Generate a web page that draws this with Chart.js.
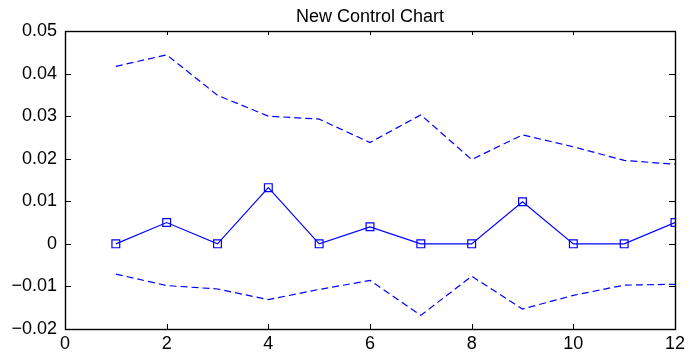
<!DOCTYPE html>
<html>
<head>
<meta charset="utf-8">
<title>New Control Chart</title>
<script src="https://cdn.jsdelivr.net/npm/chart.js@4.4.7/dist/chart.umd.min.js"></script>
<style>
  html, body { margin: 0; padding: 0; background: #fff; }
  #wrap { width: 690px; height: 354px; }
</style>
</head>
<body>
<div id="wrap"><canvas id="controlChart" width="690" height="354"></canvas></div>
<script>
// ===== データ =====
const samples = [1, 2, 3, 4, 5, 6, 7, 8, 9, 10, 11, 12];
const upperLimit = [0.0417, 0.0444, 0.0349, 0.0300, 0.0293, 0.0238, 0.0303, 0.0198, 0.0256, 0.0228, 0.0196, 0.0187];
const centerValues = [0, 0.0050, 0, 0.0132, 0, 0.0040, 0, 0, 0.0099, 0, 0, 0.0050];
const lowerLimit = [-0.0071, -0.0098, -0.0106, -0.0131, -0.0107, -0.0086, -0.0168, -0.0076, -0.0153, -0.0121, -0.0097, -0.0095];
const xTickLabels = ['0', '2', '4', '6', '8', '10', '12'];
const yTickLabels = ['\u22120.02', '\u22120.01', '0', '0.01', '0.02', '0.03', '0.04', '0.05'];

const BLUE = 'rgb(0,0,255)';
const FONT = '"Liberation Sans", Arial, Helvetica, sans-serif';

function toPoints(values) {
  return samples.map((x, i) => ({ x: x, y: values[i] }));
}

// ===== 枠と内向き目盛り（MATLAB風） =====
const boxTicks = {
  id: 'boxTicks',
  afterDraw(chart) {
    const { ctx, chartArea: a, scales } = chart;
    ctx.save();
    ctx.strokeStyle = '#000';
    ctx.lineWidth = 1.4;
    ctx.strokeRect(Math.round(a.left) + 0.5, Math.round(a.top) + 0.5,
      Math.round(a.right - a.left), Math.round(a.bottom - a.top));
    ctx.lineWidth = 1;
    ctx.beginPath();
    scales.x.ticks.forEach(t => {
      const px = Math.round(scales.x.getPixelForValue(t.value)) + 0.5;
      ctx.moveTo(px, a.bottom); ctx.lineTo(px, a.bottom - 5);
      ctx.moveTo(px, a.top); ctx.lineTo(px, a.top + 4);
    });
    scales.y.ticks.forEach(t => {
      const py = Math.round(scales.y.getPixelForValue(t.value)) + 0.5;
      ctx.moveTo(a.left, py); ctx.lineTo(a.left + 6, py);
      ctx.moveTo(a.right, py); ctx.lineTo(a.right - 6, py);
    });
    ctx.stroke();
    ctx.restore();
  }
};

// ===== チャート作成 =====
function createControlChart() {
  const ctx = document.getElementById('controlChart').getContext('2d');
  new Chart(ctx, {
    type: 'line',
    data: {
      datasets: [
        {
          label: 'UCL',
          data: toPoints(upperLimit),
          borderColor: BLUE,
          borderWidth: 1.2,
          borderDash: [7, 4],
          pointRadius: 0,
          tension: 0,
          fill: false
        },
        {
          label: 'Value',
          data: toPoints(centerValues),
          borderColor: BLUE,
          borderWidth: 1.2,
          pointStyle: 'rect',
          pointRadius: 5.5,
          pointBorderColor: BLUE,
          pointBorderWidth: 1.2,
          pointBackgroundColor: 'rgba(0,0,0,0)',
          tension: 0,
          fill: false
        },
        {
          label: 'LCL',
          data: toPoints(lowerLimit),
          borderColor: BLUE,
          borderWidth: 1.2,
          borderDash: [7, 4],
          pointRadius: 0,
          tension: 0,
          fill: false
        }
      ]
    },
    options: {
      responsive: false,
      animation: false,
      layout: { padding: { left: 0, right: 15, top: 0, bottom: 0 } },
      plugins: {
        legend: { display: false },
        tooltip: { enabled: false },
        title: {
          display: true,
          fullSize: false,
          text: 'New Control Chart',
          color: '#000',
          font: { family: FONT, size: 18, weight: 'normal' },
          padding: { top: 6, bottom: 3.4 }
        }
      },
      scales: {
        x: {
          type: 'linear',
          min: 0,
          max: 12,
          ticks: {
            stepSize: 2,
            color: '#000',
            padding: 4,
            font: { family: FONT, size: 18 },
            maxRotation: 0,
            callback: (v, i) => xTickLabels[i]
          },
          grid: { display: false, drawTicks: false },
          border: { display: false },
          afterFit: s => { s.height = 25; }
        },
        y: {
          min: -0.02,
          max: 0.05,
          ticks: {
            stepSize: 0.01,
            color: '#000',
            padding: 8,
            font: { family: FONT, size: 18 },
            callback: (v, i) => yTickLabels[i]
          },
          grid: { display: false, drawTicks: false },
          border: { display: false },
          afterFit: s => { s.width = 65; }
        }
      }
    },
    plugins: [boxTicks]
  });
}

document.addEventListener('DOMContentLoaded', createControlChart);
</script>
</body>
</html>
